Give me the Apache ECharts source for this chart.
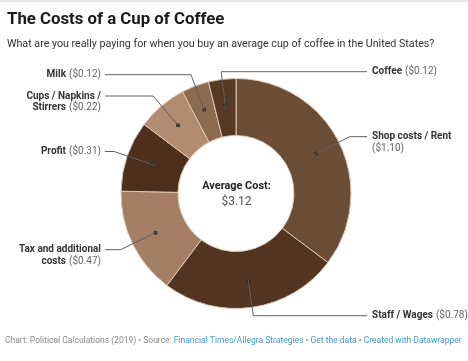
<!DOCTYPE html>
<html>
<head>
<meta charset="utf-8">
<script src="https://cdn.jsdelivr.net/npm/echarts@6/dist/echarts.min.js"></script>
<style>
html,body{margin:0;padding:0;background:#fff;}
#chart{width:468px;height:361px;}
</style>
</head>
<body>
<div id="chart"></div>
<script>
// ---- data ----
const categories = ['Shop costs / Rent', 'Staff / Wages', 'Tax and additional costs', 'Profit', 'Cups / Napkins / Stirrers', 'Milk', 'Coffee'];
const costs = [1.10, 0.78, 0.47, 0.31, 0.22, 0.12, 0.12];
const labelWrap = ['Shop costs / Rent\n', 'Staff / Wages', 'Tax and additional\ncosts', 'Profit', 'Cups / Napkins /\nStirrers', 'Milk', 'Coffee'];
const sliceColors = ['#6b4d36', '#523420', '#a37e65', '#4e2f1b', '#b28c71', '#8c6a50', '#583a24'];
const titleText = 'The Costs of a Cup of Coffee';
const subtitleText = 'What are you really paying for when you buy an average cup of coffee in the United States?';
const centerLabel = 'Average Cost:';

// ---- layout (not data) ----
const CX = 236, CY = 193.5, R0 = 58, R1 = 115;
const LINE_H = 11.5;
const labelSide = ['right', 'right', 'left', 'left', 'left', 'left', 'right'];
const labelY = [136.7, 315.7, 249.7, 151.5, 96, 74.7, 71.7];
const LEFT_X = 101, RIGHT_X = 372;

const total = costs.reduce((a, b) => a + b, 0);
const fmt = v => '($' + v.toFixed(2) + ')';

function labelFor(i) {
  const lines = labelWrap[i].split('\n');
  const out = [];
  for (let k = 0; k < lines.length - 1; k++) out.push('{b|' + lines[k] + '}');
  const last = lines[lines.length - 1];
  out.push(last ? '{b|' + last + '} {v|' + fmt(costs[i]) + '}' : '{v|' + fmt(costs[i]) + '}');
  return out.join('\n');
}

const data = categories.map((c, i) => ({ name: c, value: costs[i], itemStyle: { color: sliceColors[i] } }));

const chart = echarts.init(document.getElementById('chart'), null, { renderer: 'canvas' });

chart.setOption({
  animation: false,
  textStyle: { fontFamily: 'Roboto' },
  graphic: [
    { type: 'rect', shape: { x: 0, y: 0, width: 468, height: 2 }, style: { fill: '#e6e6e6' } },
    { type: 'text', x: 7, y: 19.5, style: { text: titleText, font: 'bold 16.8px Roboto', fill: '#1a1a1a', textVerticalAlign: 'middle' } },
    { type: 'text', x: 7, y: 44, style: { text: subtitleText, font: '10.7px Roboto', fill: '#333', textVerticalAlign: 'middle' } },
    { type: 'text', x: 236.5, y: 186.5, z: 10, style: { text: centerLabel, font: 'bold 10.9px Roboto', fill: '#222', textAlign: 'center', textVerticalAlign: 'middle' } },
    { type: 'text', x: 236.5, y: 201.5, z: 10, style: { text: '$' + total.toFixed(2), font: '12px Roboto', fill: '#555', textAlign: 'center', textVerticalAlign: 'middle' } },
    { type: 'text', x: 5, y: 341, style: {
        text: '{g|Chart: Political Calculations (2019) • Source: }{l|Financial Times/Allegra Strategies}{g| • }{l|Get the data}{g| • }{l|Created with Datawrapper}',
        textVerticalAlign: 'middle',
        rich: {
          g: { fontFamily: 'Roboto', fontSize: 8.5, fill: '#8a8a8a', color: '#8a8a8a' },
          l: { fontFamily: 'Roboto', fontSize: 8.5, fill: '#3a9fd1', color: '#3a9fd1' }
        }
    } }
  ],
  series: [
    {
      // coloured ring, with a dot at the middle of each slice
      type: 'pie',
      center: [CX, CY],
      radius: [R0, R1],
      startAngle: 90,
      clockwise: true,
      silent: true,
      z: 2,
      data: data,
      itemStyle: { borderColor: '#dcc8b5', borderWidth: 1 },
      label: {
        show: true,
        position: 'inside',
        formatter: '{d| }',
        rich: { d: { width: 4, height: 4, lineHeight: 4, fontSize: 1, backgroundColor: '#2a2a2a', borderRadius: 2 } }
      },
      labelLine: { show: false }
    },
    {
      // transparent overlay carrying the outside labels and leader lines
      type: 'pie',
      center: [CX, CY],
      radius: [R0, R1],
      startAngle: 90,
      clockwise: true,
      silent: true,
      z: 5,
      data: categories.map((c, i) => ({ name: c, value: costs[i] })),
      itemStyle: { color: 'rgba(0,0,0,0)', borderWidth: 0 },
      label: {
        show: true,
        position: 'outside',
        formatter: p => labelFor(p.dataIndex),
        lineHeight: LINE_H,
        rich: {
          b: { fontFamily: 'Roboto', fontSize: 10, fontWeight: 'bold', color: '#333', lineHeight: LINE_H },
          v: { fontFamily: 'Roboto', fontSize: 10, color: '#666', lineHeight: LINE_H }
        }
      },
      labelLine: { show: true, showAbove: true, length: 10, length2: 10, lineStyle: { color: '#5f5f5f', width: 1 } },
      labelLayout: function (params) {
        const i = params.dataIndex;
        let before = 0;
        for (let k = 0; k < i; k++) before += costs[k];
        const theta = (before + costs[i] / 2) / total * 2 * Math.PI;
        const dx = Math.sin(theta), dy = -Math.cos(theta);
        const rm = (R0 + R1) / 2;
        const dot = [CX + rm * dx, CY + rm * dy];
        const ly = labelY[i];
        const t = Math.abs(dy) > 1e-6 ? (ly - CY) / dy : rm;
        const elbow = [CX + t * dx, ly];
        const left = labelSide[i] === 'left';
        const end = [left ? LEFT_X + 4 : RIGHT_X - 5, ly];
        return {
          x: left ? LEFT_X : RIGHT_X,
          y: ly - LINE_H / 2,
          align: left ? 'right' : 'left',
          verticalAlign: 'top',
          labelLinePoints: [dot, elbow, end]
        };
      }
    }
  ]
});
</script>
</body>
</html>
